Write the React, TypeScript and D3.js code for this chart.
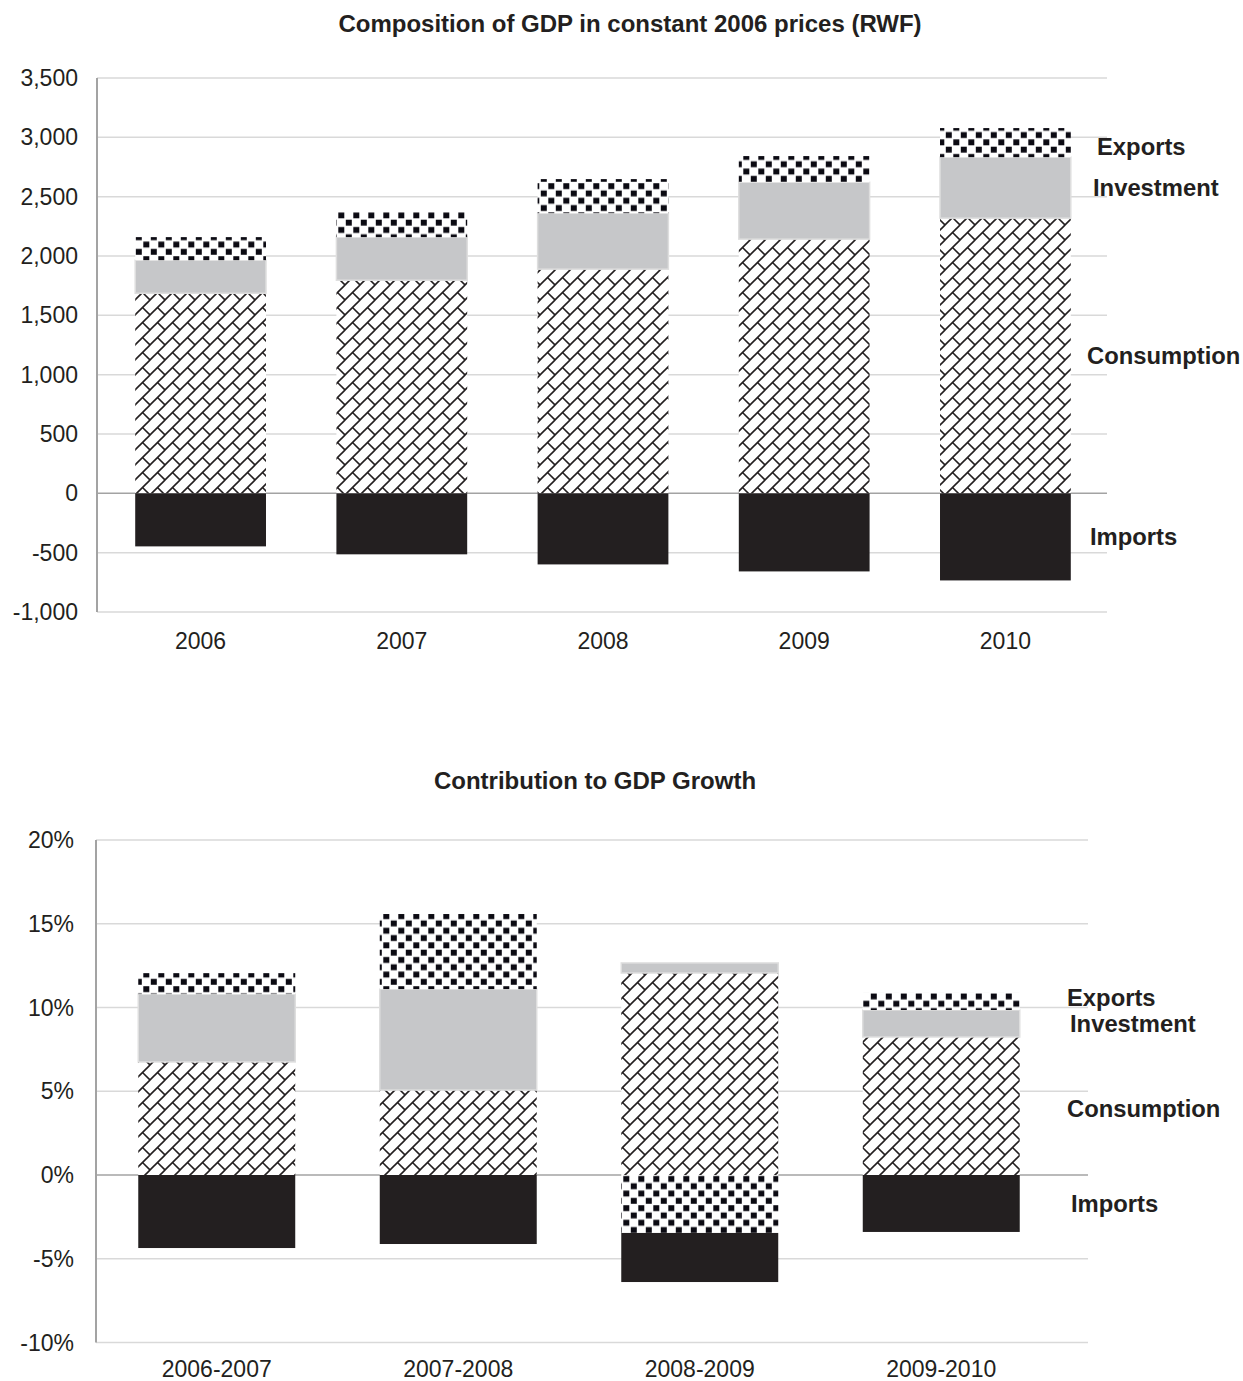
import React from "react";
import * as d3 from "d3";

// ---------- Data: composition of GDP (RWF, constant 2006 prices) ----------
const years = ["2006", "2007", "2008", "2009", "2010"];
const consumption = [1686, 1796, 1889, 2142, 2319];
const investment = [279, 363, 472, 480, 514];
const exportsVals = [194, 210, 287, 220, 245];
const imports = [-447, -514, -599, -658, -734];
const topTicks = [-1000, -500, 0, 500, 1000, 1500, 2000, 2500, 3000, 3500];

// ---------- Data: contribution to GDP growth (%) ----------
const periods = ["2006-2007", "2007-2008", "2008-2009", "2009-2010"];
const gConsumption = [6.75, 5.07, 12.06, 8.24];
const gInvestment = [4.05, 6.03, 0.6, 1.61];
const gExports = [1.25, 4.48, -3.46, 1.02];
const gImports = [-4.36, -4.12, -2.93, -3.4];
const bottomTicks = [-10, -5, 0, 5, 10, 15, 20];

const seriesKeys = ["Consumption", "Investment", "Exports", "Imports"];
const topTitle = "Composition of GDP in constant 2006 prices (RWF)";
const bottomTitle = "Contribution to GDP Growth";

const DARK = "#231f20";
const GRAY = "#c6c7c9";
const GRID = "#d9d9d9";
const AXIS = "#a3a3a3";
const FONT = "'Liberation Sans', Arial, Helvetica, sans-serif";

const fill = (key: string) =>
  key === "Consumption" ? "url(#brick)" : key === "Investment" ? GRAY : key === "Exports" ? "url(#checker)" : DARK;

interface ChartProps {
  cats: string[];
  cons: number[];
  inv: number[];
  exp: number[];
  imp: number[];
  ticks: number[];
  fmt: (v: number) => string;
  yDomain: [number, number];
  yRange: [number, number];
  xRange: [number, number];
  axisX: number;
  gridRight: number;
  title: string;
  titleX: number;
  titleY: number;
  catY: number;
  labelX: number[];
  labelDy: number[];
  tickRight: number;
}

function StackChart(p: ChartProps) {
  const rows = p.cats.map((c, i) => ({
    cat: c,
    Consumption: p.cons[i],
    Investment: p.inv[i],
    Exports: p.exp[i],
    Imports: p.imp[i],
  }));
  const stack = d3.stack<any>().keys(seriesKeys).offset(d3.stackOffsetDiverging);
  const series = stack(rows);
  const x = d3.scaleBand().domain(p.cats).range(p.xRange).paddingInner(0.35).paddingOuter(0.175);
  const y = d3.scaleLinear().domain(p.yDomain).range(p.yRange);
  const last = p.cats.length - 1;
  return (
    <g>
      <text x={p.titleX} y={p.titleY} textAnchor="middle" dominantBaseline="middle" fontWeight="bold" fontSize={24} fill={DARK}>
        {p.title}
      </text>
      {p.ticks.map((t) => (
        <g key={t}>
          <line x1={p.axisX} x2={p.gridRight} y1={y(t)} y2={y(t)} stroke={t === 0 ? AXIS : GRID} strokeWidth={1.5} />
          <text x={p.tickRight} y={y(t)} dy="0.35em" textAnchor="end" fontSize={23} fill={DARK}>
            {p.fmt(t)}
          </text>
        </g>
      ))}
      {series.map((s) => (
        <g key={s.key}>
          {s.map((d, i) => {
            const y0 = y(Math.max(d[0], d[1]));
            const y1 = y(Math.min(d[0], d[1]));
            if (y1 - y0 < 0.01) return null;
            return (
              <rect
                key={i}
                x={x(p.cats[i])}
                width={x.bandwidth()}
                y={y0}
                height={y1 - y0}
                fill={fill(s.key)}
                stroke={s.key === "Investment" ? "#dedede" : "none"}
                strokeWidth={1.5}
              />
            );
          })}
        </g>
      ))}
      <line x1={p.axisX} x2={p.axisX} y1={y(p.yDomain[1])} y2={y(p.yDomain[0])} stroke={AXIS} strokeWidth={2} />
      {p.cats.map((c) => (
        <text key={c} x={(x(c) as number) + x.bandwidth() / 2} y={p.catY} dy="0.35em" textAnchor="middle" fontSize={23} fill={DARK}>
          {c}
        </text>
      ))}
      {series.map((s, k) => {
        const d = s[last];
        const mid = (y(d[0]) + y(d[1])) / 2;
        return (
          <text key={s.key} x={p.labelX[k]} y={mid + p.labelDy[k]} dy="0.35em" fontWeight="bold" fontSize={23.8} fill={DARK}>
            {s.key}
          </text>
        );
      })}
    </g>
  );
}

export default function App() {
  const fmtTop = (v: number) => d3.format(",")(v).replace("\u2212", "-");
  const fmtBottom = (v: number) => `${v}%`;
  return (
    <svg width={1243} height={1381} style={{ position: "absolute", left: 0, top: 0, background: "#fff" }} fontFamily={FONT}>
      <defs>
        <pattern id="checker" patternUnits="userSpaceOnUse" width={15} height={14.6}>
          <rect width={15} height={14.6} fill="#fff" />
          <rect x={0.8} y={0.7} width={6} height={5.9} fill="#0b0a12" />
          <rect x={8.3} y={8} width={6} height={5.9} fill="#0b0a12" />
        </pattern>
        <pattern id="brick" patternUnits="userSpaceOnUse" width={15} height={15}>
          <rect width={15} height={15} fill="#fff" />
          <line x1={-1} y1={16} x2={16} y2={-1} stroke={DARK} strokeWidth={1.6} />
          <line x1={-1} y1={1} x2={1} y2={-1} stroke={DARK} strokeWidth={1.6} />
          <line x1={14} y1={16} x2={16} y2={14} stroke={DARK} strokeWidth={1.6} />
          <line x1={7.5} y1={7.5} x2={15.5} y2={15.5} stroke={DARK} strokeWidth={1.6} />
        </pattern>
      </defs>
      <rect width={1243} height={1381} fill="#fff" />
      <StackChart
        cats={years}
        cons={consumption}
        inv={investment}
        exp={exportsVals}
        imp={imports}
        ticks={topTicks}
        fmt={fmtTop}
        yDomain={[-1000, 3500]}
        yRange={[612, 78]}
        xRange={[100, 1106]}
        axisX={97}
        gridRight={1107}
        title={topTitle}
        titleX={630}
        titleY={26}
        catY={641}
        labelX={[1087, 1093, 1097, 1090]}
        labelDy={[0, 0, 4, 0]}
        tickRight={78}
      />
      <StackChart
        cats={periods}
        cons={gConsumption}
        inv={gInvestment}
        exp={gExports}
        imp={gImports}
        ticks={bottomTicks}
        fmt={fmtBottom}
        yDomain={[-10, 20]}
        yRange={[1342.5, 840]}
        xRange={[96, 1062]}
        axisX={96}
        gridRight={1088}
        title={bottomTitle}
        titleX={595}
        titleY={783}
        catY={1369}
        labelX={[1067, 1070, 1067, 1071]}
        labelDy={[3, 0, -4, 0]}
        tickRight={74}
      />
    </svg>
  );
}
